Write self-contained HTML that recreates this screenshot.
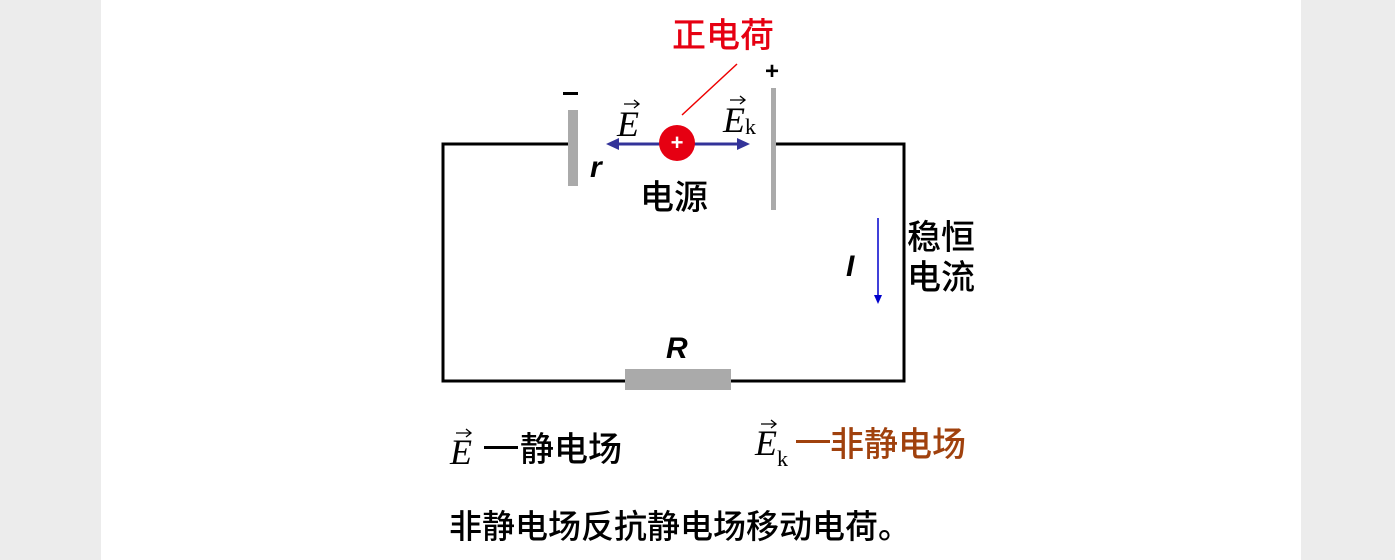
<!DOCTYPE html>
<html><head><meta charset="utf-8"><style>
body{margin:0;width:1395px;height:560px;background:#ececec;overflow:hidden}
svg{position:absolute;left:0;top:0}
.cj{font-family:"Liberation Sans","Noto Sans CJK SC",sans-serif;font-weight:500}
.se{font-family:"Liberation Serif",serif;font-style:italic}
</style></head><body>
<svg width="1395" height="560" viewBox="0 0 1395 560">
<rect x="101" y="0" width="1200" height="560" fill="#fff"/>
<g stroke="#000" stroke-width="3" fill="none">
<polyline points="573,144 443,144 443,381 904,381 904,144 775,144"/>
</g>
<rect x="568" y="110" width="10" height="76" fill="#aaa"/>
<rect x="771" y="88" width="5" height="122" fill="#aaa"/>
<rect x="625" y="369" width="106" height="21" fill="#aaa"/>
<line x1="682" y1="115" x2="737" y2="64" stroke="#e00" stroke-width="1.5"/>
<g stroke="#333399" stroke-width="3" fill="#333399">
<line x1="616" y1="144" x2="740" y2="144"/>
<polygon points="606,144 619,138 619,150" stroke="none"/>
<polygon points="750,144 737,138 737,150" stroke="none"/>
</g>
<circle cx="677" cy="143" r="18" fill="#e60012"/>
<text x="677" y="150" fill="#fff" font-size="22" font-weight="bold" text-anchor="middle" font-family="Liberation Sans,sans-serif">+</text>
<text x="672" y="47" fill="#e60012" font-size="34" class="cj">正电荷</text>
<text x="772" y="79" font-size="24" font-weight="bold" text-anchor="middle" font-family="Liberation Sans,sans-serif">+</text>
<rect x="563" y="92" width="15" height="3" fill="#000"/>
<text x="617" y="136" font-size="36" class="se">E</text>
<path d="M624,104 h14 M634,100 l5,4 -5,4" stroke="#000" stroke-width="1.3" fill="none"/>
<text x="723" y="132" font-size="36" class="se">E</text>
<path d="M730,100 h14 M740,96 l5,4 -5,4" stroke="#000" stroke-width="1.3" fill="none"/>
<text x="745" y="134" font-size="22" font-family="Liberation Serif,serif">k</text>
<text x="590" y="177" font-size="30" font-weight="bold" font-style="italic" font-family="Liberation Sans,sans-serif">r</text>
<text x="640" y="209" font-size="34" class="cj">电源</text>
<text x="907" y="249" font-size="34" class="cj">稳恒</text>
<text x="907" y="289" font-size="34" class="cj">电流</text>
<line x1="878" y1="218" x2="878" y2="297" stroke="#0000cc" stroke-width="1.5"/>
<polygon points="878,304 874,295 882,295" fill="#0000cc"/>
<text x="846" y="276" font-size="30" font-weight="bold" font-style="italic" font-family="Liberation Sans,sans-serif">I</text>
<text x="666" y="358" font-size="30" font-weight="bold" font-style="italic" font-family="Liberation Sans,sans-serif">R</text>
<text x="450" y="464" font-size="36" class="se">E</text>
<path d="M456,433 h14 M466,429 l5,4 -5,4" stroke="#000" stroke-width="1.3" fill="none"/>
<rect x="484" y="446" width="34" height="3" fill="#000"/>
<text x="520" y="461" font-size="34" class="cj">静电场</text>
<text x="755" y="455" font-size="36" class="se">E</text>
<path d="M761,424 h14 M771,420 l5,4 -5,4" stroke="#000" stroke-width="1.3" fill="none"/>
<text x="777" y="466" font-size="22" font-family="Liberation Serif,serif">k</text>
<rect x="796" y="440" width="34" height="3" fill="#a0410d"/>
<text x="830" y="456" font-size="34" fill="#a0410d" class="cj">非静电场</text>
<text x="449" y="538" font-size="33" class="cj">非静电场反抗静电场移动电荷。</text>
</svg>
</body></html>
